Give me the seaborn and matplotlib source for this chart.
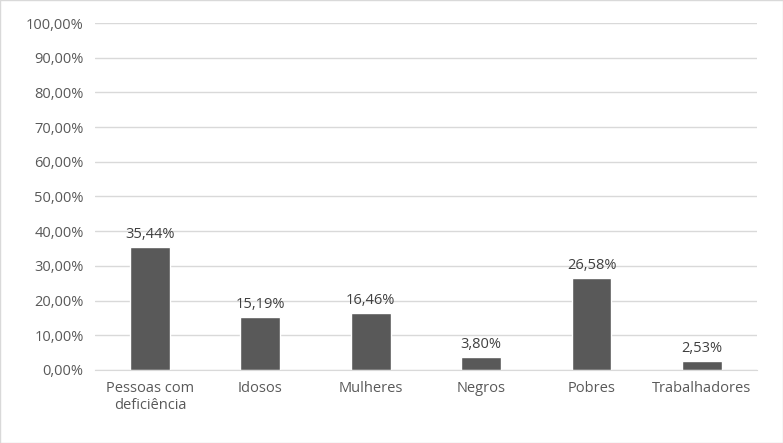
import matplotlib
matplotlib.use("Agg")
import matplotlib.pyplot as plt
import seaborn as sns
from matplotlib.ticker import FuncFormatter

categories = ["Pessoas com\ndeficiência", "Idosos", "Mulheres", "Negros", "Pobres", "Trabalhadores"]
values = [35.44, 15.19, 16.46, 3.80, 26.58, 2.53]

sns.set_style("white")
plt.rcParams["font.family"] = ["Open Sans", "DejaVu Sans"]

fig = plt.figure(figsize=(7.83, 4.43), dpi=100)
ax = fig.add_axes([0.121, 0.165, 0.846, 0.783])
fig.patches.append(plt.Rectangle((0, 0), 1, 1, transform=fig.transFigure,
                                 fill=False, edgecolor="#d9d9d9", lw=1))

sns.barplot(x=categories, y=values, color="#595959", width=0.36, ax=ax, saturation=1)

def pct(v):
    return f"{v:.2f}%".replace(".", ",")

for i, v in enumerate(values):
    ax.text(i, v + 1.5, pct(v), ha="center", va="bottom", fontsize=10.5, color="#404040")

ax.set_ylim(0, 100)
ax.set_yticks(range(0, 101, 10))
ax.yaxis.set_major_formatter(FuncFormatter(lambda v, p: pct(v)))
ax.grid(axis="y", color="#d9d9d9", lw=1)
ax.set_axisbelow(True)
for s in ["top", "right", "left"]:
    ax.spines[s].set_visible(False)
ax.spines["bottom"].set_color("#d9d9d9")
ax.tick_params(axis="both", length=0, labelsize=10.5, labelcolor="#595959", pad=8)
ax.set_xlabel("")
ax.set_ylabel("")

fig.savefig("out.png", dpi=100)
